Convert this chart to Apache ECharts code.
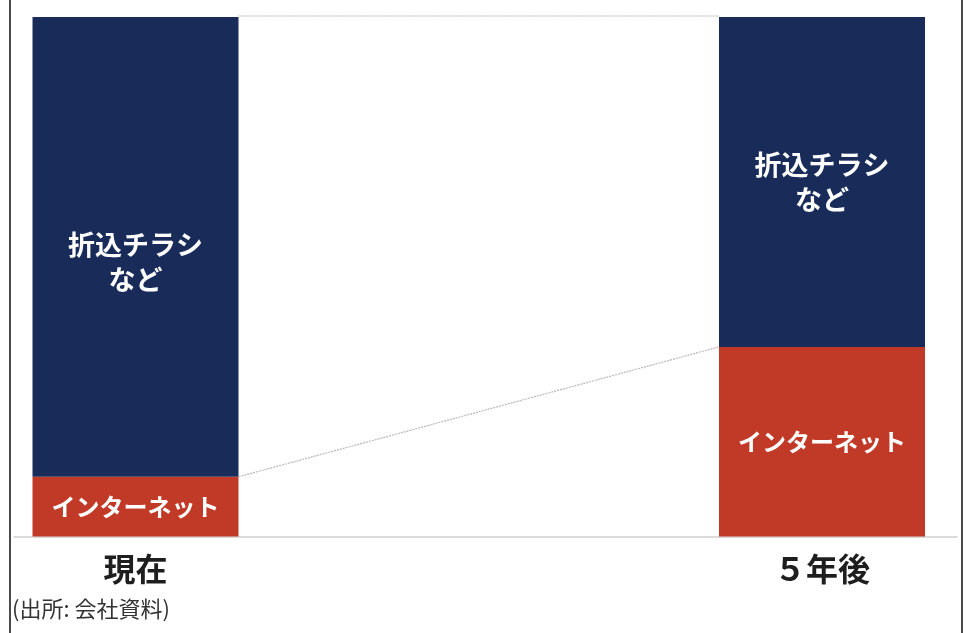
<!DOCTYPE html>
<html><head><meta charset="utf-8">
<script src="https://cdn.jsdelivr.net/npm/echarts@6/dist/echarts.min.js"></script>
<style>html,body{margin:0;padding:0;background:#fff}#c{width:967px;height:633px}</style>
</head><body><div id="c"></div>
<script>
var categories = ['現在', '５年後'];
var internet = [11.5, 36.5];
var flyers = [88.5, 63.5];
var seriesNames = ['インターネット', '折込チラシ\nなど'];
var sourceNote = '(出所: 会社資料)';

var FONT = '"Noto Sans CJK JP", "Noto Sans", sans-serif';
var BAR_W = 206;
var chart = echarts.init(document.getElementById('c'));

chart.setOption({
  backgroundColor: '#ffffff',
  animation: false,
  grid: [
    {left: 135.5, right: 145, top: 17, bottom: 96.5},
    {left: 14, right: 10, top: 17, bottom: 96.5}
  ],
  xAxis: [
    {type: 'category', gridIndex: 0, data: categories, boundaryGap: false,
     axisLine: {show: false}, axisTick: {show: false}, splitLine: {show: false},
     axisLabel: {fontFamily: FONT, fontSize: 32, fontWeight: 'bold', color: '#1e1e1e', margin: 16}},
    {type: 'value', gridIndex: 1, min: 0, max: 1, show: true,
     axisLine: {show: true, onZero: false, lineStyle: {color: '#cfcfcf', width: 1.5}},
     axisTick: {show: false}, axisLabel: {show: false}, splitLine: {show: false}}
  ],
  yAxis: [
    {type: 'value', gridIndex: 0, min: 0, max: 100, show: false},
    {type: 'value', gridIndex: 1, min: 0, max: 100, show: false}
  ],
  series: [
    {type: 'bar', name: seriesNames[0], stack: 'a', barWidth: BAR_W, data: internet,
     itemStyle: {color: '#c13a28'},
     label: {show: true, position: 'inside', formatter: seriesNames[0], fontFamily: FONT,
             fontSize: 24, fontWeight: 'bold', color: '#ffffff'}},
    {type: 'bar', name: seriesNames[1], stack: 'a', barWidth: BAR_W,
     data: flyers.map(function (v, i) {
       return i === 0 ? {value: v, label: {offset: [0, 15]}} : v;
     }),
     itemStyle: {color: '#192c59'},
     label: {show: true, position: 'inside', formatter: seriesNames[1], fontFamily: FONT,
             fontSize: 27, fontWeight: 'bold', lineHeight: 35, color: '#ffffff'}},
    {type: 'custom', data: [0], z: 5,
     renderItem: function (params, api) {
       var a = api.coord([0, internet[0]]);
       var b = api.coord([1, internet[1]]);
       var t0 = api.coord([0, internet[0] + flyers[0]]);
       var t1 = api.coord([1, internet[1] + flyers[1]]);
       var h = BAR_W / 2;
       return {type: 'group', children: [
         {type: 'line', shape: {x1: a[0] + h, y1: a[1], x2: b[0] - h, y2: b[1]},
          style: {stroke: '#b8b8b8', lineWidth: 1.2, lineDash: [2, 1]}},
         {type: 'line', shape: {x1: t0[0] + h, y1: t0[1] - 1, x2: t1[0] - h, y2: t1[1] - 1},
          style: {stroke: '#d0d0d0', lineWidth: 1.5, lineDash: [2, 1]}}
       ]};
     }}
  ],
  graphic: [
    {type: 'rect', left: 9, top: 0, shape: {width: 2, height: 633}, style: {fill: '#4a4a4a'}},
    {type: 'rect', left: 961, top: 0, shape: {width: 2, height: 633}, style: {fill: '#4a4a4a'}},
    {type: 'text', left: 12, top: 598, style: {text: sourceNote, fontFamily: FONT, fontSize: 22, fill: '#333333'}}
  ]
});
</script></body></html>
